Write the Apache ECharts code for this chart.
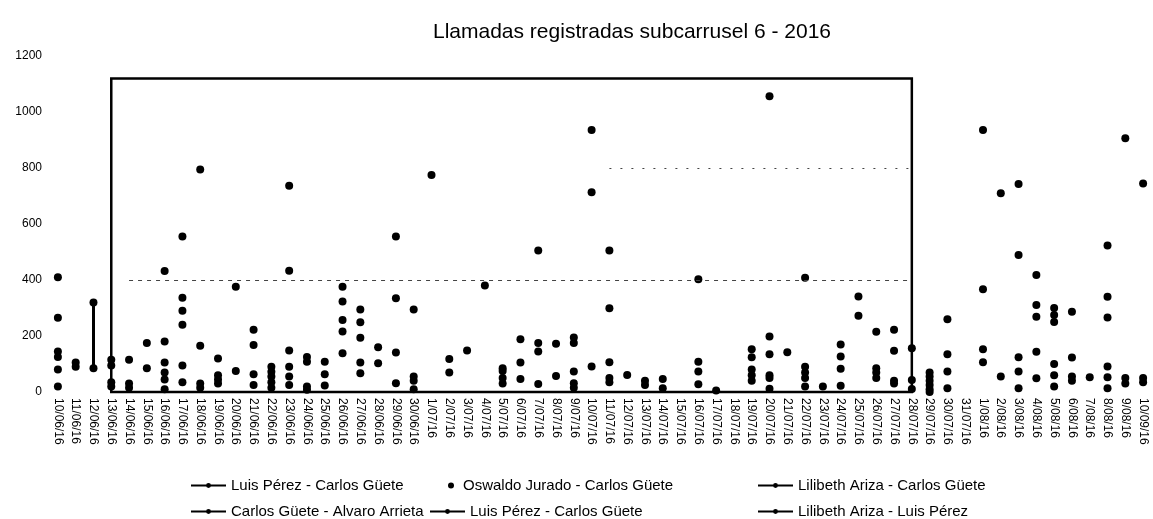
<!DOCTYPE html>
<html>
	<head>
		<meta charset="utf-8">
		<title>Llamadas registradas subcarrusel 6 - 2016</title>
		<style>
			html, body { margin: 0; padding: 0; background: #fff; }
			#main { width: 1153px; height: 519px; }
		</style>
	</head>
	<body>
		<div id="main"></div>
		<script type="text/javascript" src="https://cdn.jsdelivr.net/npm/echarts@6.0.0/dist/echarts.min.js"></script>
		<script type="text/javascript">
			// fechas (eje x)
			var fechas = ['10/06/16', '11/06/16', '12/06/16', '13/06/16', '14/06/16', '15/06/16', '16/06/16', '17/06/16', '18/06/16', '19/06/16',
				'20/06/16', '21/06/16', '22/06/16', '23/06/16', '24/06/16', '25/06/16', '26/06/16', '27/06/16', '28/06/16', '29/06/16', '30/06/16',
				'1/07/16', '2/07/16', '3/07/16', '4/07/16', '5/07/16', '6/07/16', '7/07/16', '8/07/16', '9/07/16', '10/07/16',
				'11/07/16', '12/07/16', '13/07/16', '14/07/16', '15/07/16', '16/07/16', '17/07/16', '18/07/16', '19/07/16', '20/07/16',
				'21/07/16', '22/07/16', '23/07/16', '24/07/16', '25/07/16', '26/07/16', '27/07/16', '28/07/16', '29/07/16', '30/07/16', '31/07/16',
				'1/08/16', '2/08/16', '3/08/16', '4/08/16', '5/08/16', '6/08/16', '7/08/16', '8/08/16', '9/08/16', '10/09/16'];

			var nombres = ['Luis Pérez - Carlos Güete', 'Oswaldo Jurado - Carlos Güete', 'Lilibeth Ariza - Carlos Güete',
				'Carlos Güete - Alvaro Arrieta', 'Luis Pérez - Carlos Güete', 'Lilibeth Ariza - Luis Pérez'];

			// llamadas por pareja
			var luisCarlos = [410, 105, 320, 115, 115, 175, 432, 555, 795, 120, 376, 222, 90, 737, 125, 108, 376, 295, 160, 555, 295,
				775, 118, 148, 380, 85, 188, 505, 172, 195, 936, 505, 61, 40, 46, null, 403, 5, null, 153, 1056,
				142, 408, 20, 170, 341, 215, 222, 156, 70, 260, null, 936, 710, 743, 418, 300, 287, 53, 523, 906, 745];
			var oswaldoCarlos = [265, 90, 85, 95, 30, 85, 180, 337, 165, 60, 75, 168, 72, 433, 108, 63, 323, 249, 103, 335, 55,
				null, 70, null, null, 75, 105, 175, 57, 175, 713, 299, null, 25, 13, null, 108, null, null, 124, 198,
				null, 90, null, 127, 272, 85, 147, 43, 55, 135, null, 367, 55, 489, 311, 275, 123, null, 340, 50, 50];
			var lilibethCarlos = [145, null, null, 35, 15, null, 105, 290, 30, 45, null, 63, 55, 148, 20, 23, 257, 194, null, 141, 40,
				null, null, null, null, 50, 46, 145, null, 73, 91, 106, null, null, null, null, 73, null, null, 80, 135,
				null, 70, null, 83, null, 70, 40, 11, 40, 73, null, 153, null, 124, 269, 250, 55, null, 266, 30, 35];
			var carlosAlvaro = [125, null, null, 20, null, null, 70, 240, 15, 30, null, 25, 35, 90, 8, null, 216, 105, null, 31, 10,
				null, null, null, null, 30, null, 29, null, 31, null, 50, null, null, null, null, 28, null, null, 60, 60,
				null, 50, null, 22, null, 50, 30, null, 25, 13, null, 106, null, 73, 144, 100, 40, null, 91, null, null];
			var luisCarlos2 = [80, null, null, null, null, null, 45, 95, null, null, null, null, 15, 55, null, null, 138, 67, null, null, null,
				null, null, null, null, null, null, null, null, 15, null, 35, null, null, null, null, null, null, null, 40, 50,
				null, 20, null, null, null, null, null, null, 10, null, null, null, null, 13, 49, 60, null, null, 53, null, null];
			var lilibethLuis = [20, null, null, null, null, null, 10, 35, null, null, null, null, null, 25, null, null, null, null, null, null, null,
				null, null, null, null, null, null, null, null, null, null, null, null, null, null, null, null, null, null, null, 12,
				null, null, null, null, null, null, null, null, 0, null, null, null, null, null, null, 20, null, null, 13, null, null];

			var ticksY = [0, 200, 400, 600, 800, 1000, 1200];

			var chart = echarts.init(document.getElementById('main'));

			function serie(nombre, datos, tipo) {
				return {
					name: nombre,
					type: tipo,
					data: datos,
					symbol: 'circle',
					symbolSize: 8,
					showAllSymbol: true,
					itemStyle: { color: '#000', opacity: 1 },
					lineStyle: { color: '#000', width: 2, opacity: 0 },
					connectNulls: false,
					silent: true,
					animation: false
				};
			}

			var series = [
				serie(nombres[0], luisCarlos, 'line'),
				serie(nombres[1], oswaldoCarlos, 'scatter'),
				serie(nombres[2], lilibethCarlos, 'line'),
				serie(nombres[3], carlosAlvaro, 'line'),
				serie(nombres[4], luisCarlos2, 'line'),
				serie(nombres[5], lilibethLuis, 'line')
			];

			// recuadro y lineas punteadas que trae el grafico original (bordes entre categorias)
			series[0].markArea = {
				silent: true,
				itemStyle: { color: 'rgba(0,0,0,0)', borderColor: '#000', borderWidth: 2.5 },
				data: [[{ xAxis: 2.65, yAxis: 1120 }, { xAxis: 48.35, yAxis: 0 }]]
			};
			series[0].markLine = {
				silent: true,
				symbol: 'none',
				label: { show: false },
				data: [
					[{ coord: ['12/06/16', 85], lineStyle: { type: 'solid', width: 3, color: '#000' } }, { coord: ['12/06/16', 320] }],
					[{ coord: ['14/06/16', 400], lineStyle: { type: [4, 5], width: 1, color: '#444' } }, { coord: ['28/07/16', 400] }],
					[{ coord: ['11/07/16', 800], lineStyle: { type: [2, 9], width: 1, color: '#444' } }, { coord: ['28/07/16', 800] }]
				]
			};

			// una leyenda por entrada, en dos filas
			function leyenda(nombre, left, top, ancho, alto, icono) {
				var item = { name: nombre };
				if (icono) item.icon = icono;
				return {
					left: left,
					top: top,
					itemWidth: ancho,
					itemHeight: alto,
					selectedMode: false,
					lineStyle: { opacity: 1, color: '#000', width: 2 },
					itemStyle: { color: '#000', opacity: 1 },
					textStyle: { fontSize: 15, color: '#000', fontFamily: 'Liberation Sans' },
					data: [item]
				};
			}

			var option = {
				animation: false,
				textStyle: { fontFamily: 'Liberation Sans' },
				title: {
					text: 'Llamadas registradas subcarrusel 6 - 2016',
					left: 627,
					textAlign: 'center',
					top: 17,
					textStyle: { fontSize: 21, fontWeight: 'normal', color: '#000', fontFamily: 'Liberation Sans' }
				},
				grid: { left: 49, right: 1, top: 56, bottom: 127 },
				xAxis: {
					type: 'category',
					data: fechas,
					axisLine: { show: false },
					axisTick: { show: false },
					axisLabel: { interval: 0, rotate: -90, fontSize: 12, color: '#000', margin: 6 }
				},
				yAxis: {
					type: 'value',
					min: ticksY[0],
					max: ticksY[ticksY.length - 1],
					interval: 200,
					axisLine: { show: false },
					axisTick: { show: false },
					splitLine: { show: false },
					axisLabel: { fontSize: 12, color: '#000', margin: 7, formatter: function (v) { return String(v); } }
				},
				legend: [
					leyenda(nombres[0], 185, 473, 35, 6),
					leyenda(nombres[1], 443, 473, 14, 6, 'circle'),
					leyenda(nombres[2], 752, 473, 35, 6),
					leyenda(nombres[3], 185, 499, 35, 6),
					leyenda(nombres[4], 424, 499, 35, 6),
					leyenda(nombres[5], 752, 499, 35, 6)
				],
				series: series
			};
			chart.setOption(option);
		</script>
	</body>
</html>
